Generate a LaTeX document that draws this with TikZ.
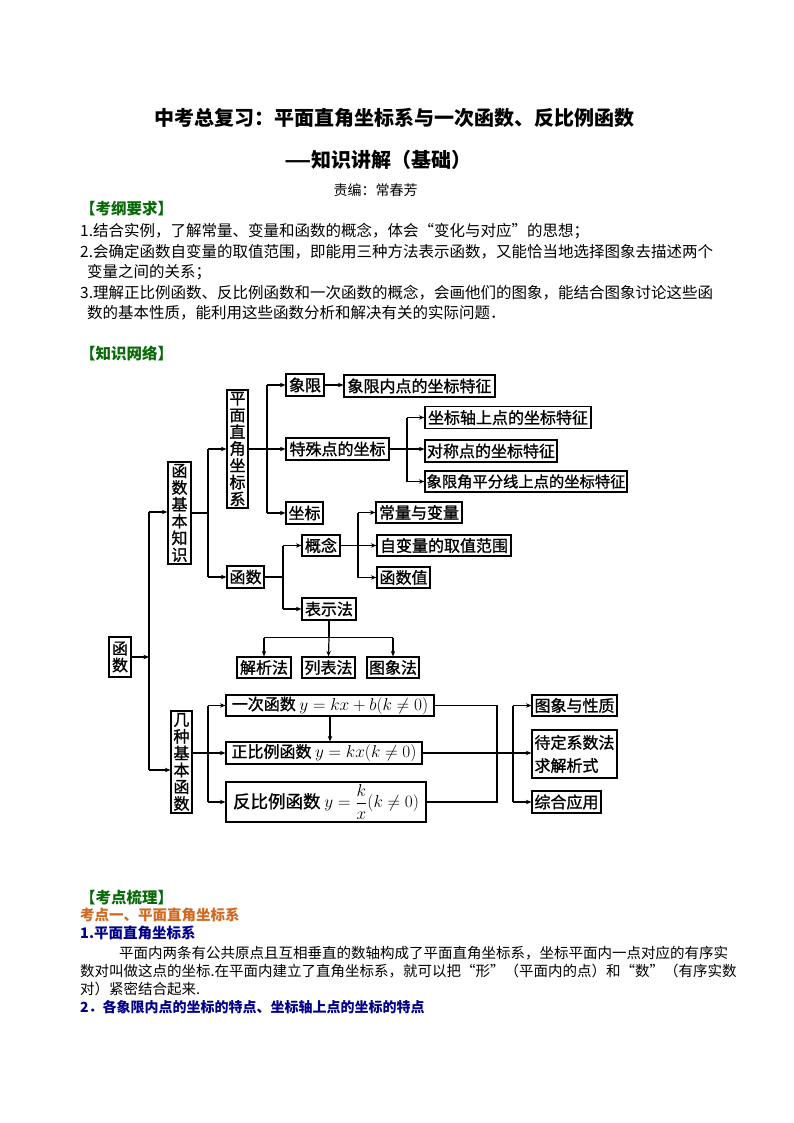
\documentclass[tikz,border=0pt]{standalone}
\usepackage{amsmath}
\usepackage{graphicx}
\usepackage{fontspec}
\newfontfamily\cjk{Noto Sans CJK SC}
\newfontfamily\cjkbx[FakeBold=1.2]{Noto Sans CJK SC}
\usetikzlibrary{arrows.meta}
\definecolor{kgreen}{HTML}{0A6A0A}
\definecolor{korange}{HTML}{D2691E}
\definecolor{kblue}{HTML}{00008B}
\XeTeXlinebreaklocale "zh"
\XeTeXlinebreakskip=0pt plus 2pt
\newcommand{\bigmath}[1]{{\fontsize{17.28}{20}\selectfont$#1$}}
\begin{document}
\begin{tikzpicture}[x=1pt,y=-1pt,
  bx/.style={draw, line width=1.2pt, inner sep=0pt, font=\cjkbx\fontsize{16}{18}\selectfont},
  vbx/.style={bx, align=center, font=\cjkbx\fontsize{16}{16.8}\selectfont},
  ln/.style={line width=1.2pt},
  ar/.style={line width=1.2pt, -{Stealth[length=5.5pt,width=4.5pt]}},
  txt/.style={anchor=west, inner sep=0pt, font=\cjk\fontsize{15.5}{18}\selectfont},
  ptxt/.style={anchor=west, inner sep=0pt, font=\cjk\fontsize{14.5}{17}\selectfont},
  ghead/.style={anchor=west, inner sep=0pt, text=kgreen, font=\cjk\bfseries\fontsize{15.5}{18}\selectfont},
  ohead/.style={anchor=west, inner sep=0pt, text=korange, font=\cjk\bfseries\fontsize{14.5}{17}\selectfont},
  bhead/.style={anchor=west, inner sep=0pt, text=kblue, font=\cjk\bfseries\fontsize{14.5}{17}\selectfont},
  ttl/.style={inner sep=0pt, font=\cjk\bfseries\fontsize{20}{24}\selectfont}
]
\useasboundingbox (0,0) rectangle (794,1123);
\fill[white] (0,0) rectangle (794,1123);

% ---------- header text ----------
\node[ttl] (t1) at (394,118) {中考总复习：平面直角坐标系与一次函数、反比例函数};
\node[ttl] (t2) at (378,160) {\scalebox{1.5}[1]{—}知识讲解（基础）};
\node[inner sep=0pt, font=\cjk\fontsize{14}{16}\selectfont] (t3) at (375.5,190) {责编：常春芳};

\node[ghead] (h1) at (80,209) {【考纲要求】};
\node[txt] (l1) at (80,231) {1.结合实例，了解常量、变量和函数的概念，体会“变化与对应”的思想；};
\node[txt] (l2) at (80,252) {\hbox to 632pt{2.会确定函数自变量的取值范围，即能用三种方法表示函数，又能恰当地选择图象去描述两个}};
\node[txt] (l2b) at (87,272) {变量之间的关系；};
\node[txt] (l3) at (80,293) {\hbox to 632pt{3.理解正比例函数、反比例函数和一次函数的概念，会画他们的图象，能结合图象讨论这些函}};
\node[txt] (l3b) at (87,313) {数的基本性质，能利用这些函数分析和解决有关的实际问题．};
\node[ghead] (h2) at (80,353) {【知识网络】};

% ---------- diagram boxes ----------
\node[vbx, minimum width=22pt, minimum height=40pt] (fn) at (120,657) {函\\数};
\node[vbx, minimum width=23pt, minimum height=102pt] (jbzs) at (179.5,513) {函\\数\\基\\本\\知\\识};
\node[vbx, minimum width=21pt, minimum height=102pt] (jzhs) at (181.5,762) {几\\种\\基\\本\\函\\数};
\node[vbx, minimum width=21pt, minimum height=118pt] (pm) at (237.5,449) {平\\面\\直\\角\\坐\\标\\系};

\node[bx, minimum width=38pt, minimum height=22pt] (xx) at (305,385) {象限};
\node[bx, minimum width=151pt, minimum height=22pt] (xxnd) at (419.5,386) {象限内点的坐标特征};
\node[bx, minimum width=103pt, minimum height=22pt] (tsd) at (337.5,449) {特殊点的坐标};
\node[bx, minimum width=166pt, minimum height=21.5pt] (zbz) at (508,417.5) {坐标轴上点的坐标特征};
\node[bx, minimum width=132pt, minimum height=22pt] (dcd) at (491,451) {对称点的坐标特征};
\node[bx, minimum width=202pt, minimum height=21pt, font=\cjkbx\fontsize{15.3}{18}\selectfont] (xxj) at (526,481.5) {象限角平分线上点的坐标特征};
\node[bx, minimum width=37pt, minimum height=22pt] (zb) at (304.5,513) {坐标};

\node[bx, minimum width=37pt, minimum height=22pt] (hs) at (245.5,577) {函数};
\node[bx, minimum width=38pt, minimum height=21pt] (gn) at (321,545.5) {概念};
\node[bx, minimum width=54pt, minimum height=22pt] (bsf) at (329,609) {表示法};
\node[bx, minimum width=86pt, minimum height=21pt] (clbl) at (419,512.5) {常量与变量};
\node[bx, minimum width=134pt, minimum height=21pt] (zbl) at (444,545.5) {自变量的取值范围};
\node[bx, minimum width=53pt, minimum height=21pt] (hsz) at (403.5,577.5) {函数值};
\node[bx, minimum width=54pt, minimum height=21pt] (jxf) at (264,667.5) {解析法};
\node[bx, minimum width=53pt, minimum height=21pt] (lbf) at (328.5,667.5) {列表法};
\node[bx, minimum width=52pt, minimum height=21pt] (txf) at (393,667.5) {图象法};

\node[bx, minimum width=208pt, minimum height=21pt] (ycf) at (330,705.5) {一次函数 \bigmath{y=kx+b(k\neq0)}};
\node[bx, minimum width=196pt, minimum height=22pt] (zbl2) at (324,753) {正比例函数 \bigmath{y=kx(k\neq0)}};
\node[bx, minimum width=200pt, minimum height=40pt, font=\cjkbx\fontsize{17.5}{19}\selectfont] (fbl) at (326,802) {反比例函数 \bigmath{y=\dfrac{k}{x}(k\neq0)}};
\node[bx, minimum width=85pt, minimum height=21pt] (txyxz) at (574.5,705.5) {图象与性质};
\node[bx, minimum width=85pt, minimum height=48pt, align=left, font=\cjkbx\fontsize{16}{23}\selectfont] (ddxs) at (574.5,754) {待定系数法\\求解析式};
\node[bx, minimum width=69pt, minimum height=22pt] (zhyy) at (566.5,802) {综合应用};

% ---------- connectors ----------
\coordinate (v1t) at (149,512);
\coordinate (v1b) at (149,770);
\coordinate (v1m) at (149,657);
\draw[ln] (v1t) -- (v1b);
\draw[ar] (fn.east) -- (v1m);
\draw[ar] (v1t) -- (v1t -| jbzs.west);
\draw[ar] (v1b) -- (v1b -| jzhs.west);

\coordinate (b2t) at (208,449);
\coordinate (b2b) at (208,577);
\draw[ln] (jbzs.east) -- (jbzs.east -| b2t);
\draw[ln] (b2t) -- (b2b);
\draw[ar] (b2t) -- (pm.west);
\draw[ar] (b2b) -- (hs.west);

\coordinate (b3t) at (267,385);
\coordinate (b3b) at (267,513);
\draw[ln] (b3t) -- (b3b);
\draw[ar] (pm.east) -- (tsd.west);
\draw[ar] (b3t) -- (xx.west);
\draw[ar] (b3b) -- (zb.west);
\draw[ar] (xx.east) -- (xx.east -| xxnd.west);

\coordinate (b4t) at (407,417.5);
\coordinate (b4b) at (407,481.5);
\draw[ln] (b4t) -- (b4b);
\draw[ar] (tsd.east) -- (tsd.east -| dcd.west);
\draw[ar] (b4t) -- (zbz.west);
\draw[ar] (b4b) -- (xxj.west);

\coordinate (b5t) at (283,545.5);
\coordinate (b5b) at (283,609);
\draw[ln] (hs.east) -- (hs.east -| b5t);
\draw[ln] (b5t) -- (b5b);
\draw[ar] (b5t) -- (gn.west);
\draw[ar] (b5b) -- (bsf.west);

\coordinate (b6t) at (358,512.5);
\coordinate (b6b) at (358,577.5);
\draw[ln] (b6t) -- (b6b);
\draw[ar] (gn.east) -- (zbl.west);
\draw[ar] (b6t) -- (clbl.west);
\draw[ar] (b6b) -- (hsz.west);

\coordinate (b7l) at (264,637.5);
\coordinate (b7r) at (393,637.5);
\draw[ln] (bsf.south) -- (bsf.south |- b7l);
\draw[ln] (b7l) -- (b7r);
\draw[ar] (b7l) -- (jxf.north);
\draw[ar] (bsf.south |- b7l) -- (lbf.north);
\draw[ar] (b7r) -- (txf.north);

\coordinate (b8t) at (208,705.5);
\coordinate (b8b) at (208,802);
\draw[ln] (b8t) -- (b8b);
\draw[ar] (jzhs.east |- zbl2.west) -- (zbl2.west);
\draw[ar] (b8t) -- (ycf.west);
\draw[ar] (b8b) -- (fbl.west);
\draw[ar] (ycf.south) -- (ycf.south |- zbl2.north);

\coordinate (b9t) at (497,705.5);
\coordinate (b9b) at (497,802);
\draw[ln] (ycf.east) -- (b9t) -- (b9b) -- (fbl.east);
\draw[ar] (zbl2.east) -- (zbl2.east -| ddxs.west);

\coordinate (b10t) at (513,705.5);
\coordinate (b10b) at (513,802);
\draw[ln] (b10t) -- (b10b);
\draw[ar] (b10t) -- (txyxz.west);
\draw[ar] (b10b) -- (zhyy.west);

% ---------- bottom text ----------
\node[ghead] (h3) at (80,898) {【考点梳理】};
\node[ohead] (h4) at (80,915) {考点一、平面直角坐标系};
\node[bhead] (h5) at (80,933) {1.平面直角坐标系};
\node[ptxt] (p1) at (119,953) {\hbox to 593pt{平面内两条有公共原点且互相垂直的数轴构成了平面直角坐标系，坐标平面内一点对应的有序实}};
\node[ptxt] (p2) at (80,971) {\hbox to 632pt{数对叫做这点的坐标.在平面内建立了直角坐标系，就可以把“形”（平面内的点）和“数”（有序实数}};
\node[ptxt] (p3) at (80,989) {对）紧密结合起来.};
\node[bhead, font=\cjk\bfseries\fontsize{14}{16}\selectfont] (h6) at (80,1007) {2．各象限内点的坐标的特点、坐标轴上点的坐标的特点};
\end{tikzpicture}
\end{document}
